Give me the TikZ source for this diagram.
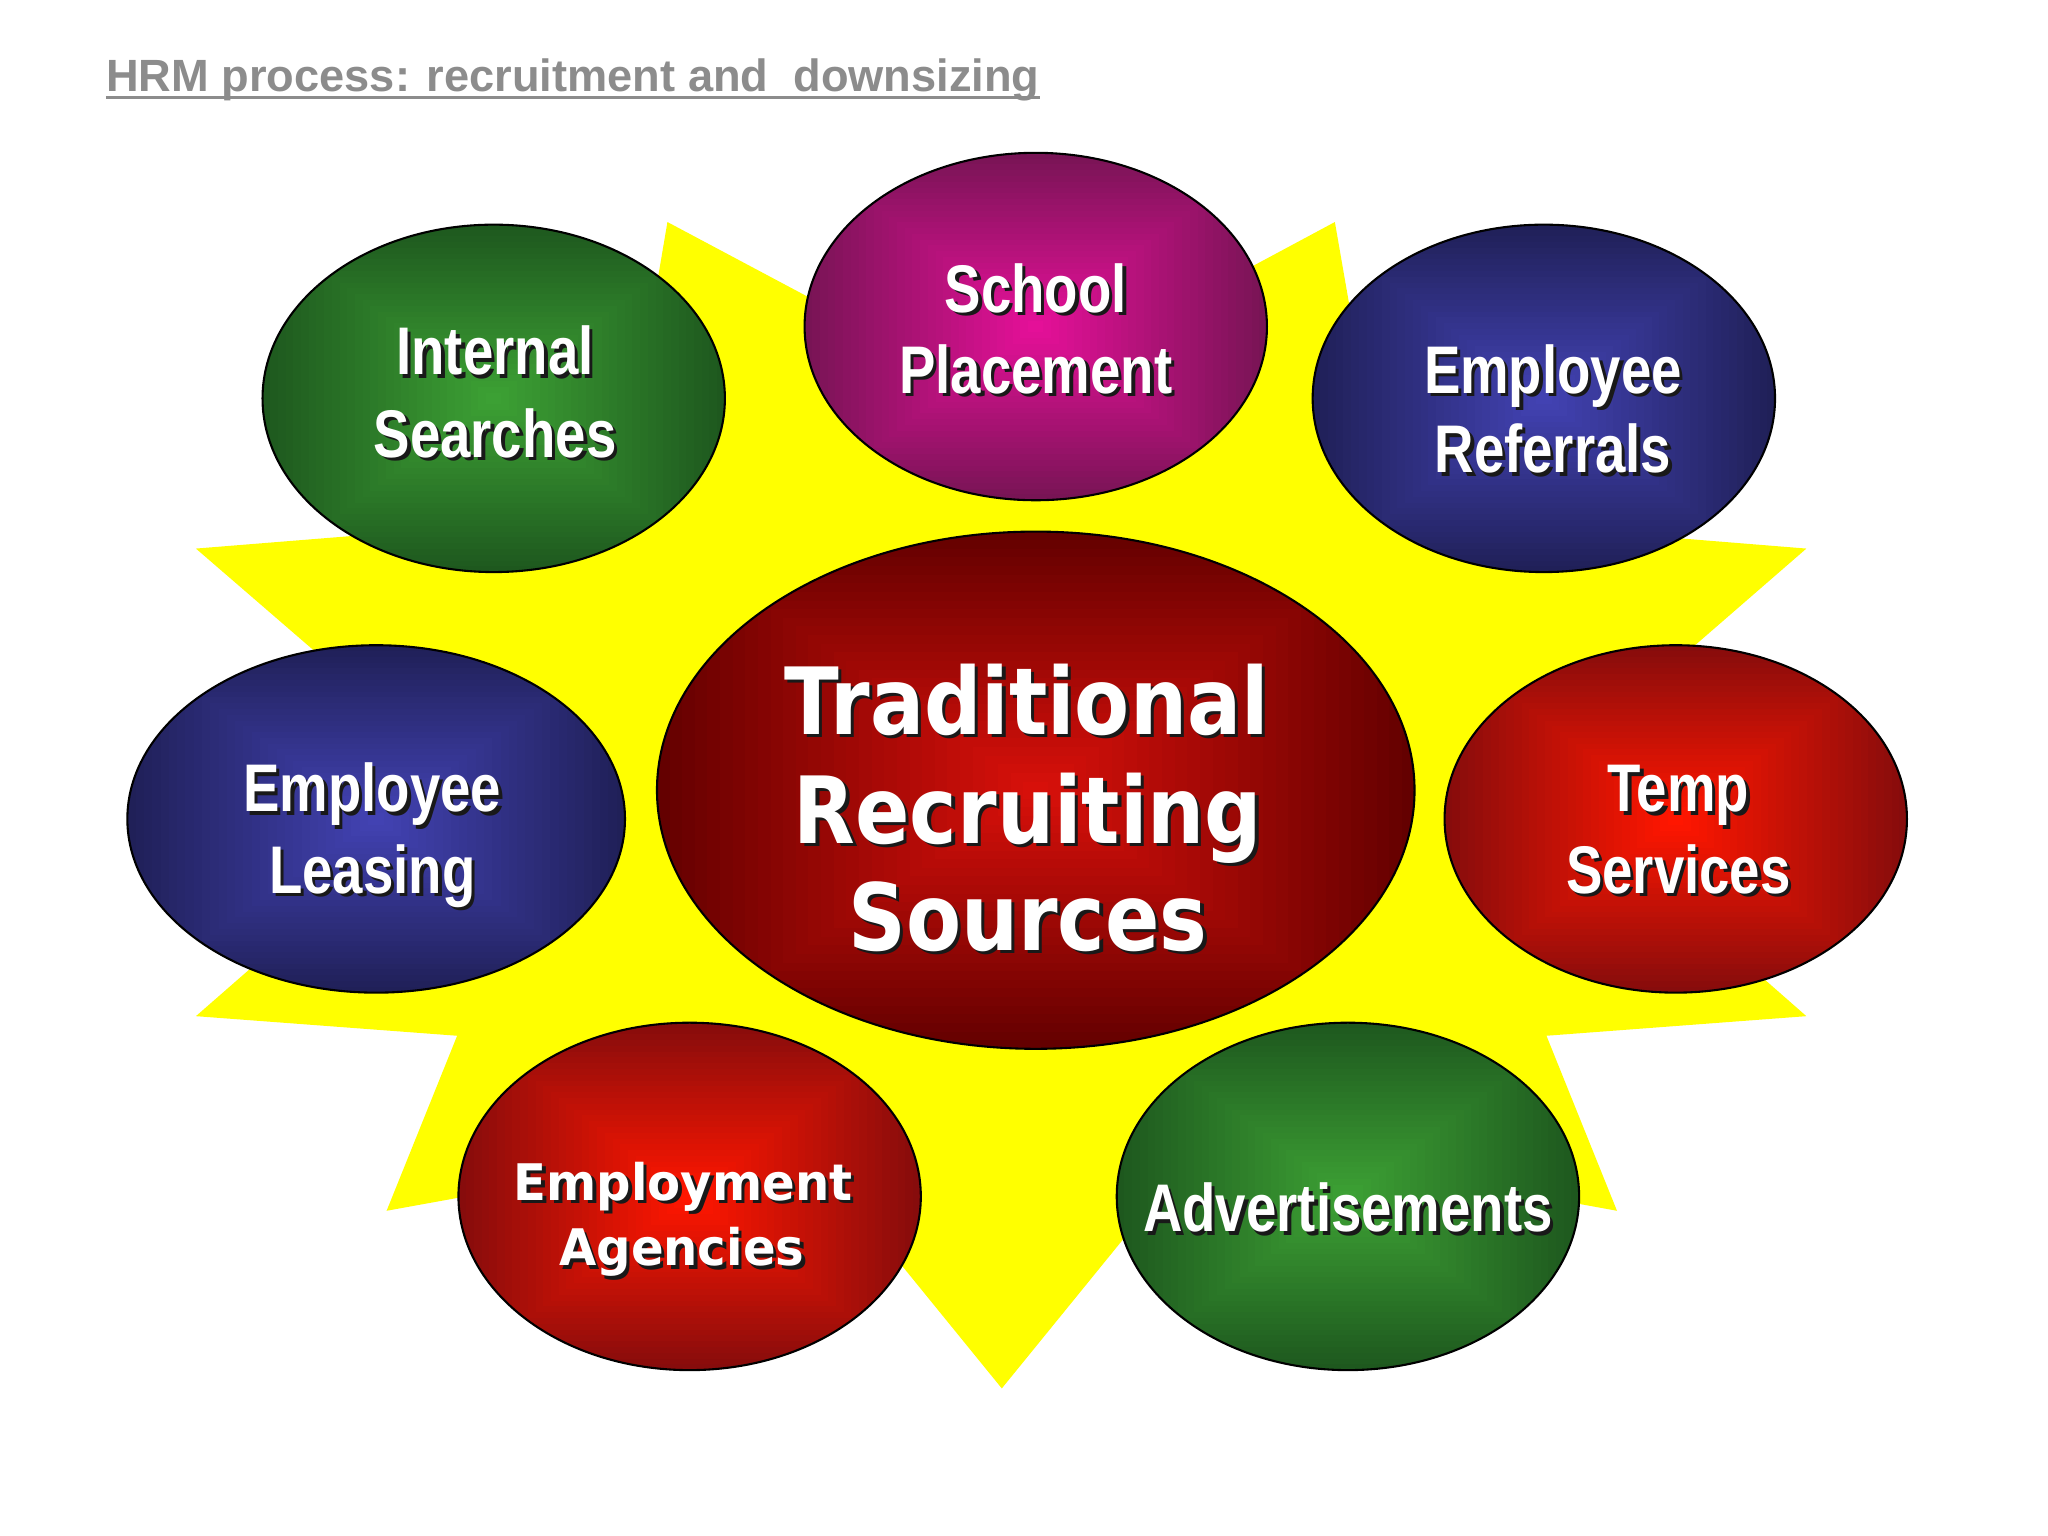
\documentclass[tikz,border=0pt]{standalone}
\usepackage{graphicx}
\usepackage{fontspec}
\setmainfont{Liberation Sans}
\newfontfamily\dejavu{DejaVu Sans}
\usetikzlibrary{shapes.geometric,calc}

\definecolor{starY}{RGB}{255,255,0}
\definecolor{titleG}{RGB}{140,140,140}
\definecolor{gE}{RGB}{30,88,30}
\definecolor{gC}{RGB}{60,160,52}
\definecolor{mE}{RGB}{120,20,85}
\definecolor{mC}{RGB}{228,16,152}
\definecolor{bE}{RGB}{32,32,88}
\definecolor{bC}{RGB}{66,66,178}
\definecolor{dE}{RGB}{100,0,0}
\definecolor{dC}{RGB}{215,16,10}
\definecolor{rE}{RGB}{135,12,12}
\definecolor{rC}{RGB}{255,22,0}
\definecolor{shadowc}{RGB}{25,25,25}

\newcommand{\fo}{\fontsize{25.8pt}{30pt}\selectfont\bfseries}
\newcommand{\ol}[1]{\scalebox{0.81}[1]{\fo #1}}
\newcommand{\ft}{\dejavu\fontsize{35.5pt}{40pt}\selectfont\bfseries}
\newcommand{\tl}[1]{\scalebox{0.865}[1]{\ft #1}}
\newcommand{\fe}{\dejavu\fontsize{19.3pt}{23pt}\selectfont\bfseries}
\newcommand{\el}[1]{\scalebox{0.955}[1]{\fe #1}}

\newcommand{\shtext}[3]{%
  \node[txtbase, text=shadowc] (#1s) at ($(#2)+(2.6,2.6)$) {#3};
  \node[txtbase, text=white] (#1) at (#2) {#3};
}

\tikzset{
  txtbase/.style={anchor=base, inner sep=0pt, outer sep=0pt},
  bubble/.style n args={2}{
    ellipse, draw=black, line width=0.8pt, inner sep=0pt,
    path picture={
      \foreach \i in {0,...,29}{
        \pgfmathsetmacro\f{1-\i/30}
        \pgfmathsetmacro\m{100*\i/29}
        \fill[#2!\m!#1]
          ($(path picture bounding box.center)!\f!(path picture bounding box.south west)$)
          rectangle
          ($(path picture bounding box.center)!\f!(path picture bounding box.north east)$);
      }
    }
  },
  small/.style={minimum width=177pt, minimum height=133pt}
}

\begin{document}
\begin{tikzpicture}[x=0.5pt,y=-0.5pt]
\useasboundingbox (0,0) rectangle (1568,1176);
\fill[white] (0,0) rectangle (1568,1176);

% title
\node[anchor=base west, inner sep=0pt, text=titleG,
      font=\fontsize{17.3pt}{20pt}\selectfont\bfseries] (title) at (81,70)
      {HRM process: recruitment and\ \ downsizing};
\draw[titleG, line width=1.2pt] ($(title.base west)+(0,4.5)$) -- ($(title.base east)+(0,4.5)$);

% yellow star
\fill[starY] (767,150) -- (884,244) -- (1022,170) -- (1061,394) -- (1383,420)
  -- (1178,598) -- (1383,778) -- (1184,793) -- (1238,927) -- (924,870)
  -- (767,1063) -- (610,870) -- (296,927) -- (350,793) -- (150,778)
  -- (356,598) -- (150,420) -- (473,394) -- (511,170) -- (650,244) -- cycle;

% ellipses
\node[bubble={mE}{mC}, small] (school) at (793,250) {};
\node[bubble={gE}{gC}, small] (internal) at (378,305) {};
\node[bubble={bE}{bC}, small] (referrals) at (1182,305) {};
\node[bubble={dE}{dC}, minimum width=290pt, minimum height=198pt] (center) at (793,605) {};
\node[bubble={bE}{bC}, minimum width=190.5pt, minimum height=133pt] (leasing) at (288,627) {};
\node[bubble={rE}{rC}, small] (temp) at (1283,627) {};
\node[bubble={rE}{rC}, small] (agencies) at (528,916) {};
\node[bubble={gE}{gC}, small] (ads) at (1032,916) {};

% labels
\shtext{tSchool}{793,239}{\ol{School}}
\shtext{tPlacement}{793,301}{\ol{Placement}}
\shtext{tInternal}{379,287}{\ol{Internal}}
\shtext{tSearches}{379,350}{\ol{Searches}}
\shtext{tEmpR}{1189,301}{\ol{Employee}}
\shtext{tReferrals}{1189,362}{\ol{Referrals}}
\shtext{tEmpL}{285,621.5}{\ol{Employee}}
\shtext{tLeasing}{285,684}{\ol{Leasing}}
\shtext{tTemp}{1285,621.5}{\ol{Temp}}
\shtext{tServices}{1285,684}{\ol{Services}}
\shtext{tAds}{1032,943}{\ol{Advertisements}}
\shtext{tTrad}{786,562}{\tl{Traditional}}
\shtext{tRecr}{787,645.5}{\tl{Recruiting}}
\shtext{tSrc}{787,727.5}{\tl{Sources}}
\shtext{tEmployment}{523,919}{\el{Employment}}
\shtext{tAgencies}{522,969}{\el{Agencies}}
\end{tikzpicture}
\end{document}
